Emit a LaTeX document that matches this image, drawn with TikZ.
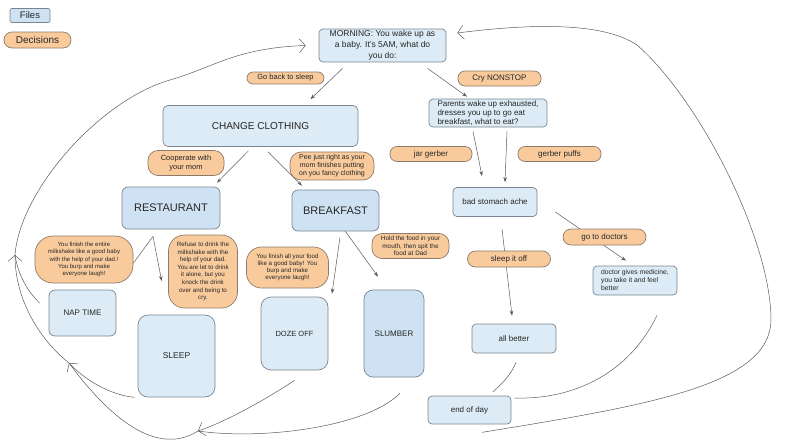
\documentclass[tikz,border=0pt]{standalone}
\usepackage{fontspec}
\setmainfont{Liberation Sans}
\usetikzlibrary{arrows.meta,backgrounds}

\definecolor{fileblue}{HTML}{DCEBF5}
\definecolor{darkblue}{HTML}{CFE2F3}
\definecolor{decorange}{HTML}{F9CB9C}
\definecolor{edgegray}{HTML}{7A8591}
\definecolor{edgebrown}{HTML}{8C7B6C}
\definecolor{linegray}{HTML}{5A5A5A}

\tikzset{
  wh/.style 2 args={minimum width=#1pt, minimum height=#2pt},
  txt/.style 2 args={font=\fontsize{#1}{#2}\selectfont},
  file/.style={draw=edgegray, line width=0.7pt, fill=fileblue, rounded corners=4pt, inner sep=0pt, align=center, text=black!85},
  decision/.style={draw=edgebrown, line width=0.7pt, fill=decorange, rounded corners=7pt, inner sep=0pt, align=center, text=black!85},
  flow/.style={draw=linegray, line width=0.5pt, -{Stealth[length=5pt,width=3.5pt]}},
  loop/.style={draw=linegray, line width=0.5pt},
  barb/.style={loop, -{Straight Barb[length=6pt,width=14pt]}},
}

\begin{document}
\begin{tikzpicture}[x=1pt,y=-1pt]
    \useasboundingbox (0,0) rectangle (785,445);

    % legend
    \node[file, fill=darkblue, rounded corners=2pt, wh={40}{14}, txt={9.5}{11}] (files) at (30,15.5) {Files};
    \node[decision, rounded corners=8pt, wh={67}{16}, txt={10}{12}] (decisions) at (37.5,40) {Decisions};

    % top
    \node[file, wh={127}{33}, txt={8.5}{11}] (morning) at (382.5,45.5) {MORNING: You wake up as\\a baby. It's 5AM, what do\\you do:};
    \node[decision, rounded corners=6pt, wh={77}{12}, txt={7.5}{9}] (backsleep) at (285.5,78) {Go back to sleep};
    \node[decision, wh={83}{15}, txt={8}{9}] (cry) at (499.5,78.5) {Cry NONSTOP};
    \node[file, rounded corners=5pt, wh={195}{41}, txt={10}{12}] (change) at (260.5,126) {CHANGE CLOTHING};
    \node[file, align=left, wh={118}{28}, txt={8}{9}] (parents) at (488,113) {Parents wake up exhausted,\\dresses you up to go eat\\breakfast, what to eat?};

    % right branch
    \node[decision, wh={82}{15}, txt={8}{9}] (jar) at (431,154) {jar gerber};
    \node[decision, wh={83}{15}, txt={8}{9}] (puffs) at (559.5,154) {gerber puffs};
    \node[file, wh={84}{29}, txt={8}{9}] (stomach) at (495,202) {bad stomach ache};
    \node[decision, rounded corners=8pt, wh={83}{16}, txt={8}{9}] (doctors) at (604.5,237) {go to doctors};
    \node[file, align=left, wh={84}{29}, txt={6.8}{8}] (medicine) at (635,280.5) {doctor gives medicine,\\you take it and feel\\better};
    \node[decision, rounded corners=8pt, wh={83}{16}, txt={8}{9}] (sleepoff) at (509,259) {sleep it off};
    \node[file, wh={84}{29}, txt={8}{9}] (allbetter) at (514,338.5) {all better};
    \node[file, wh={83}{28}, txt={8}{9}] (endday) at (469.5,410) {end of day};

    % left branch
    \node[decision, rounded corners=10pt, wh={76}{25}, txt={7.5}{9.3}] (coop) at (186,163) {Cooperate with\\your mom};
    \node[file, fill=darkblue, rounded corners=6pt, wh={98}{42}, txt={11}{13}] (restaurant) at (171,208) {RESTAURANT};
    \node[decision, rounded corners=11pt, wh={84}{28}, txt={7}{8}] (pee) at (332,166) {Pee just right as your\\mom finishes putting\\on you fancy clothing};
    \node[file, fill=darkblue, rounded corners=6pt, wh={87}{41}, txt={11}{13}] (breakfast) at (335.5,210.5) {BREAKFAST};
    \node[decision, rounded corners=18pt, wh={98}{47}, txt={6}{7.3}] (milkshake) at (84,259.5) {You finish the entire\\milkshake like a good baby\\with the help of your dad.!\\You burp and make\\everyone laugh!};
    \node[decision, rounded corners=16pt, wh={69}{73}, txt={6.2}{7.6}] (refuse) at (203,271.5) {Refuse to drink the\\milkshake with the\\help of your dad.\\You are let to drink\\it alone, but you\\knock the drink\\over and being to\\cry.};
    \node[decision, rounded corners=15pt, wh={82}{41}, txt={6.2}{7}] (finish) at (287.5,267.5) {You finish all your food\\like a good baby! You\\burp and make\\everyone laugh!};
    \node[decision, rounded corners=10pt, wh={77}{25}, txt={6.4}{7.6}] (spit) at (410.5,246) {Hold the food in your\\mouth, then spit the\\food at Dad};
    \node[file, rounded corners=6pt, wh={67}{46}, txt={8}{9}] (nap) at (82.5,313) {NAP TIME};
    \node[file, rounded corners=10pt, wh={77}{82}, txt={8.5}{10}] (sleep) at (176.5,356) {SLEEP};
    \node[file, rounded corners=10pt, wh={67}{73}, txt={7.5}{9}] (doze) at (294.5,333.5) {DOZE OFF};
    \node[file, fill=darkblue, rounded corners=9pt, wh={60}{87}, txt={8}{9}] (slumber) at (394,333.5) {SLUMBER};

    % loop points
    \coordinate (hubA) at (198,431);
    \coordinate (hubB) at (69,363);
    \coordinate (hubC) at (15,255);
    \coordinate (leftbend) at (170,80);
    \coordinate (rightbend) at (771,320);
    \coordinate (topbend) at (637,45);

    \begin{scope}[on background layer]
    \draw[flow] ([xshift=-40pt,yshift=-6pt]morning.south) -- ([xshift=50pt,yshift=6pt]change.north);
    \draw[flow] ([xshift=45pt,yshift=-6pt]morning.south) -- ([xshift=-21pt,yshift=2pt]parents.north);
    \draw[flow] ([xshift=-15pt,yshift=-4pt]parents.south) -- ([xshift=-13pt,yshift=11pt]stomach.north);
    \draw[flow] ([xshift=19pt,yshift=-4pt]parents.south) -- ([xshift=10pt,yshift=5pt]stomach.north);
    \draw[flow] ([xshift=18pt,yshift=-10pt]stomach.east) -- ([xshift=-9pt,yshift=5pt]medicine.north);
    \draw[flow] ([xshift=7pt,yshift=-12pt]stomach.south) -- ([xshift=-2pt,yshift=8pt]allbetter.north);
    \draw[flow] ([xshift=-12pt,yshift=-4pt]change.south) -- ([xshift=46pt,yshift=4pt]restaurant.north);
    \draw[flow] ([xshift=7.5pt,yshift=-5pt]change.south) -- ([xshift=-33.5pt,yshift=4pt]breakfast.north);
    \draw[flow] ([xshift=-18pt,yshift=-7pt]restaurant.south) -- ([xshift=-5pt,yshift=-10.5pt]milkshake.east);
    \draw[flow] ([xshift=-18pt,yshift=-7pt]restaurant.south) -- ([xshift=-6.5pt,yshift=-9.5pt]refuse.west);
    \draw[flow] ([xshift=4.5pt,yshift=-6pt]breakfast.south) -- ([xshift=37.5pt,yshift=3pt]doze.north);
    \draw[flow] ([xshift=8.5pt,yshift=2pt]breakfast.south) -- ([xshift=-16pt,yshift=13pt]slumber.north);

    % going back to sleep
    \draw[barb] ([yshift=-10pt]doze.south) .. controls (265,400) and (225,422) .. (hubA);
    \draw[loop] ([xshift=6pt,yshift=-16pt]slumber.south) .. controls (365,428) and (260,440) .. (hubA);
    \draw[barb] (hubA) .. controls (160,455) and (115,425) .. (hubB);
    \draw[loop] ([xshift=-3pt]sleep.south west) .. controls (110,395) and (85,380) .. (hubB);
    \draw[barb] (hubB) .. controls (40,340) and (15,300) .. (hubC);
    \draw[loop] ([xshift=-9pt,yshift=10pt]nap.west) .. controls (28,292) and (18,275) .. (hubC);
    \draw[barb] (hubC) .. controls (20,190) and (100,100) .. (leftbend) .. controls (215,67) and (235,48) .. ([xshift=-13pt]morning.west);

    % end of the day
    \draw[loop] ([xshift=2pt,yshift=-9pt]allbetter.south) .. controls (511,375) and (501,385) .. ([xshift=23.5pt,yshift=4pt]endday.north);
    \draw[loop] ([xshift=22pt,yshift=-20pt]medicine.south) .. controls (630,372) and (575,400) .. ([xshift=3pt,yshift=12pt]endday.east);
    \draw[barb] ([xshift=12.5pt,yshift=-8pt]endday.south) .. controls (650,405) and (770,385) .. (rightbend) .. controls (771,240) and (700,100) .. (topbend) .. controls (600,20) and (520,25) .. ([xshift=11pt,yshift=12.5pt]morning.east);
    \end{scope}
\end{tikzpicture}
\end{document}
